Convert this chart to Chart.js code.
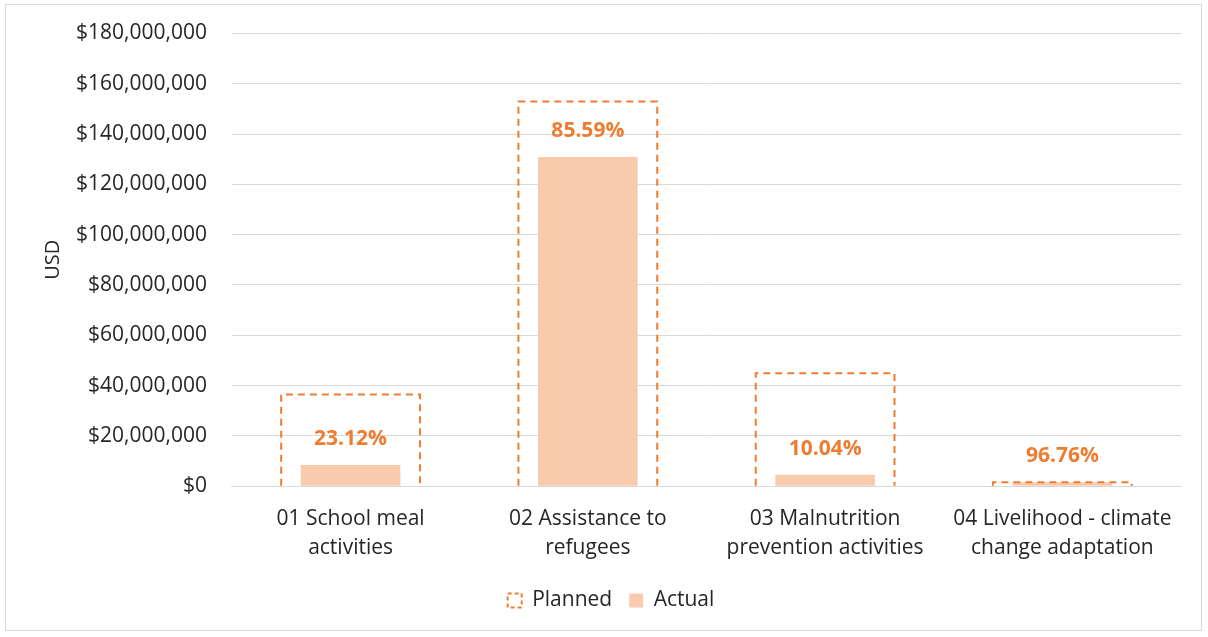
<!DOCTYPE html>
<html><head><meta charset="utf-8">
<script src="https://cdn.jsdelivr.net/npm/chart.js@4"></script>
<style>
html,body{margin:0;padding:0;background:#fff;}
#wrap{position:absolute;left:0;top:0;width:1208px;height:637px;}
#frame{position:absolute;left:5px;top:4px;width:1197px;height:627px;border:1px solid #d9d9d9;box-sizing:border-box;pointer-events:none;}
canvas{display:block;}
</style></head><body>
<div id="wrap"><canvas id="c" width="1208" height="637"></canvas><div id="frame"></div></div>
<script>
const categories = [["01 School meal","activities"],["02 Assistance to","refugees"],["03 Malnutrition","prevention activities"],["04 Livelihood - climate","change adaptation"]];
const planned = [36500000, 152900000, 44900000, 1600000];
const actual = [8440000, 130870000, 4510000, 1550000];
const pctLabels = ["23.12%","85.59%","10.04%","96.76%"];
const seriesNames = ["Planned","Actual"];

const ORANGE = '#ED7D31', PEACH = '#F8CBAD', GRID = '#D9D9D9', TXT = '#262626';
const FONT = "'Open Sans', sans-serif";

const dashedPlugin = {
  id: 'dashedBoxes',
  afterDatasetsDraw(chart) {
    const ctx = chart.ctx;
    const meta = chart.getDatasetMeta(0);
    ctx.save();
    ctx.strokeStyle = ORANGE; ctx.lineWidth = 2; ctx.setLineDash([7,5]);
    meta.data.forEach(el => {
      const p = el.getProps(['x','y','base','width'], true);
      const l = p.x - p.width/2, r = p.x + p.width/2;
      ctx.beginPath();
      ctx.moveTo(l, p.base); ctx.lineTo(l, p.y); ctx.lineTo(r, p.y); ctx.lineTo(r, p.base);
      ctx.stroke();
    });
    ctx.restore();
    const m2 = chart.getDatasetMeta(1);
    ctx.save();
    ctx.fillStyle = ORANGE; ctx.font = "bold 21px " + FONT; ctx.textAlign = 'center'; ctx.textBaseline = 'middle';
    m2.data.forEach((el, i) => {
      ctx.fillText(pctLabels[i], el.x, el.y - 26);
    });
    ctx.restore();
  }
};

new Chart(document.getElementById('c'), {
  type: 'bar',
  data: {
    labels: categories,
    datasets: [
      { label: seriesNames[0], data: planned, backgroundColor: 'rgba(0,0,0,0)', borderWidth: 0, barPercentage: 0.585, categoryPercentage: 1, order: 2 },
      { label: seriesNames[1], data: actual, backgroundColor: PEACH, borderWidth: 0, barPercentage: 0.42, categoryPercentage: 1, order: 1 }
    ]
  },
  options: {
    responsive: false, animation: false, devicePixelRatio: 1,
    layout: { padding: { left: 41, right: 27, top: 12, bottom: 16 } },
    datasets: { bar: { grouped: false } },
    plugins: {
      tooltip: { enabled: false },
      legend: {
        position: 'bottom',
        labels: {
          font: { family: FONT, size: 21 }, color: TXT, boxWidth: 14, boxHeight: 14, padding: 17,
          generateLabels(chart) {
            return [
              { text: seriesNames[0], fillStyle: 'rgba(0,0,0,0)', strokeStyle: ORANGE, lineWidth: 2, lineDash: [4,3], datasetIndex: 0, fontColor: TXT },
              { text: seriesNames[1], fillStyle: PEACH, strokeStyle: PEACH, lineWidth: 0, datasetIndex: 1, fontColor: TXT }
            ];
          }
        }
      }
    },
    scales: {
      x: {
        grid: { display: false },
        border: { color: GRID, width: 1 },
        ticks: { font: { family: FONT, size: 21, lineHeight: 1.4 }, color: TXT, maxRotation: 0, autoSkip: false, padding: 10 }
      },
      y: {
        min: 0, max: 180000000,
        ticks: { stepSize: 20000000, font: { family: FONT, size: 21, lineHeight: 0.8 }, color: TXT, padding: 25,
          callback: v => '$' + v.toLocaleString('en-US') },
        grid: { color: GRID, lineWidth: 1, drawTicks: false },
        border: { display: false },
        title: { display: true, text: 'USD', font: { family: FONT, size: 20 }, color: TXT, padding: { top: 0, bottom: -14 } }
      }
    }
  },
  plugins: [dashedPlugin]
});
</script>
</body></html>
